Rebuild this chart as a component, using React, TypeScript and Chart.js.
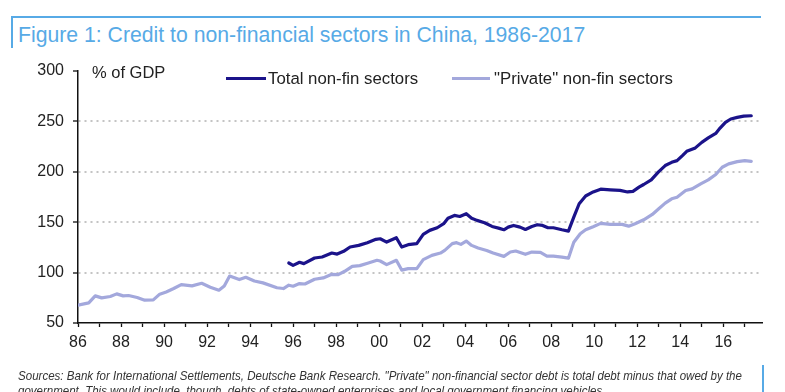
import React, { useEffect, useLayoutEffect, useRef, useState } from 'react';
import { Chart, registerables } from 'chart.js';

Chart.register(...registerables);

const titleText = 'Figure 1: Credit to non-financial sectors in China, 1986-2017';
const footLine1 = 'Sources: Bank for International Settlements, Deutsche Bank Research. "Private" non-financial sector debt is total debt minus that owed by the';
const footLine2 = 'government. This would include, though, debts of state-owned enterprises and local government financing vehicles.';
const unitLabel = '% of GDP';
const totalLabel = 'Total non-fin sectors';
const privateLabel = '"Private" non-fin sectors';

const xTickYears = [1986, 1988, 1990, 1992, 1994, 1996, 1998, 2000, 2002, 2004, 2006, 2008, 2010, 2012, 2014, 2016];
const xMinorYears = [1986, 1987, 1988, 1989, 1990, 1991, 1992, 1993, 1994, 1995, 1996, 1997, 1998, 1999, 2000, 2001, 2002, 2003, 2004, 2005, 2006, 2007, 2008, 2009, 2010, 2011, 2012, 2013, 2014, 2015, 2016, 2017];
const yTickValues = [50, 100, 150, 200, 250, 300];

const privateYears = [
  1986.0, 1986.5, 1986.8, 1987.1, 1987.5, 1987.8, 1988.1, 1988.35, 1988.75, 1989.1,
  1989.5, 1989.8, 1990.1, 1990.45, 1990.8, 1991.3, 1991.75, 1992.15, 1992.55, 1992.8,
  1993.05, 1993.5, 1993.8, 1994.2, 1994.6, 1995.25, 1995.55, 1995.8, 1996.0, 1996.3,
  1996.55, 1997.0, 1997.4, 1997.8, 1998.1, 1998.4, 1998.75, 1999.1, 1999.5, 1999.9,
  2000.05, 2000.35, 2000.8, 2001.05, 2001.35, 2001.75, 2002.05, 2002.45, 2002.85, 2003.05,
  2003.4, 2003.6, 2003.8, 2004.05, 2004.3, 2004.6, 2005.0, 2005.3, 2005.8, 2006.1,
  2006.35, 2006.8, 2007.1, 2007.5, 2007.8, 2008.1, 2008.5, 2008.8, 2009.05, 2009.35,
  2009.6, 2009.95, 2010.3, 2010.75, 2011.3, 2011.6, 2011.9, 2012.3, 2012.7, 2013.0,
  2013.3, 2013.6, 2013.85, 2014.25, 2014.55, 2014.95, 2015.3, 2015.65, 2015.95, 2016.25,
  2016.65, 2017.0, 2017.3,
];
const privateValues = [
  67.6, 70, 76.9, 74.9, 76.3, 78.9, 76.9, 77.3, 75.3, 72.6,
  72.9, 78.6, 80.8, 84.2, 88.1, 86.8, 89.4, 85.4, 82.5, 86.8,
  96.6, 93.1, 95.4, 91.7, 89.8, 85, 84.2, 87.5, 86.5, 89.1,
  88.7, 93.4, 94.7, 98.3, 98, 101.3, 106.2, 106.9, 109.5, 112.2,
  111.5, 107.9, 112.2, 102.5, 104, 104, 112.9, 117.1, 119.4, 122,
  128.7, 129.7, 128, 131.3, 127, 124.4, 122, 119.4, 116.1, 120.4,
  121.4, 118.1, 120.4, 120, 116.4, 116.4, 115.4, 114.3, 130.1, 138.6,
  142.5, 145.5, 148.8, 147.8, 147.8, 146.1, 148.5, 152.4, 157.7, 163.3,
  168.9, 173.2, 174.8, 181.4, 183.1, 188.1, 192, 197.3, 204.5, 207.9,
  210.1, 211.1, 210.4,
];

const totalYears = [
  1995.8, 1996.0, 1996.3, 1996.5, 1997.0, 1997.35, 1997.8, 1998.05, 1998.35, 1998.65,
  1999.05, 1999.45, 1999.85, 2000.05, 2000.35, 2000.8, 2001.05, 2001.35, 2001.75, 2002.05,
  2002.35, 2002.7, 2003.0, 2003.2, 2003.5, 2003.75, 2004.05, 2004.3, 2004.55, 2004.9,
  2005.25, 2005.55, 2005.8, 2006.0, 2006.25, 2006.55, 2006.8, 2007.1, 2007.35, 2007.6,
  2007.85, 2008.1, 2008.5, 2008.8, 2009.05, 2009.3, 2009.6, 2009.95, 2010.3, 2010.75,
  2011.2, 2011.55, 2011.8, 2012.1, 2012.3, 2012.65, 2013.0, 2013.3, 2013.6, 2013.85,
  2014.1, 2014.3, 2014.7, 2015.0, 2015.3, 2015.65, 2015.85, 2016.1, 2016.35, 2016.65,
  2016.95, 2017.3,
];
const totalValues = [
  109.5, 107.2, 110.2, 108.9, 114.5, 115.5, 119.4, 118.4, 121.1, 125.4,
  127, 129.7, 133, 133.6, 130.3, 134.6, 125.4, 127.7, 128.7, 137.9,
  141.9, 144.5, 148.5, 154, 156.7, 155.7, 158.4, 154, 151.8, 149.5,
  145.8, 144.1, 142.5, 145.1, 146.8, 145.1, 142.8, 145.8, 147.5, 146.8,
  144.5, 144.5, 142.5, 141.2, 155, 168.3, 176, 180, 182.8, 182.1,
  181.6, 180, 180.6, 185, 187.4, 192, 200.2, 206.2, 209.4, 211.1,
  216.1, 220.3, 223.7, 229.2, 233.6, 238.1, 243.4, 249, 252.4, 254,
  255.3, 255.6,
];

const TOTAL_COLOR = '#1b138a';
const PRIVATE_COLOR = '#a3a8dc';
const TITLE_BLUE = '#57aae6';
const TEXT_COLOR = '#222222';
const FONT = '"Liberation Sans", Arial, sans-serif';

function FitText({ text, width, style }: { text: string; width: number; style: React.CSSProperties }) {
  const ref = useRef<HTMLSpanElement>(null);
  const [scale, setScale] = useState(1);
  useLayoutEffect(() => {
    if (ref.current) {
      const w = ref.current.offsetWidth;
      if (w > 0) setScale(width / w);
    }
  }, [text, width]);
  return (
    <span
      ref={ref}
      style={{
        ...style,
        display: 'inline-block',
        whiteSpace: 'nowrap',
        transform: `scaleX(${scale})`,
        transformOrigin: 'left center',
      }}
    >
      {text}
    </span>
  );
}

function CreditChart() {
  const canvasRef = useRef<HTMLCanvasElement>(null);
  useEffect(() => {
    if (!canvasRef.current) return;
    const totalData = totalYears.map((x, i) => ({ x, y: totalValues[i] }));
    const privateData = privateYears.map((x, i) => ({ x, y: privateValues[i] }));
    const chart = new Chart(canvasRef.current, {
      type: 'line',
      data: {
        datasets: [
          {
            label: privateLabel,
            data: privateData,
            borderColor: PRIVATE_COLOR,
            borderWidth: 3.2,
            pointRadius: 0,
            tension: 0,
            borderJoinStyle: 'round',
            borderCapStyle: 'round',
          },
          {
            label: totalLabel,
            data: totalData,
            borderColor: TOTAL_COLOR,
            borderWidth: 3.2,
            pointRadius: 0,
            tension: 0,
            borderJoinStyle: 'round',
            borderCapStyle: 'round',
          },
        ],
      },
      options: {
        animation: false,
        responsive: false,
        events: [],
        layout: { padding: { top: 71, right: 23, bottom: 0, left: 0 } },
        plugins: {
          legend: { display: false },
          tooltip: { enabled: false },
          title: { display: false },
        },
        scales: {
          x: {
            type: 'linear',
            min: 1986,
            max: 2017.8,
            afterBuildTicks: (s: any) => {
              s.ticks = xMinorYears.map((v) => ({ value: v }));
            },
            afterFit: (s: any) => {
              s.height = 69;
            },
            ticks: {
              autoSkip: false,
              maxRotation: 0,
              minRotation: 0,
              padding: 6,
              color: TEXT_COLOR,
              font: { family: FONT, size: 16 },
              callback: (v: any) => {
                const yr = Math.round(Number(v));
                return xTickYears.includes(yr) ? String(yr % 100).padStart(2, '0') : '';
              },
            },
            grid: {
              drawOnChartArea: false,
              drawTicks: true,
              tickLength: 4,
              tickColor: '#111',
              tickWidth: 1.3,
            },
            border: { display: true, color: '#111', width: 1.5 },
          },
          y: {
            type: 'linear',
            min: 50,
            max: 300,
            afterBuildTicks: (s: any) => {
              s.ticks = yTickValues.map((v) => ({ value: v }));
            },
            afterFit: (s: any) => {
              s.width = 78;
            },
            ticks: {
              padding: 9,
              color: TEXT_COLOR,
              font: { family: FONT, size: 16 },
            },
            grid: {
              drawOnChartArea: true,
              drawTicks: true,
              tickLength: 5,
              tickColor: '#111',
              tickWidth: 1.3,
              lineWidth: 2,
              color: (ctx: any) => {
                const v = ctx.tick ? ctx.tick.value : null;
                return v === 50 || v === 300 ? 'rgba(0,0,0,0)' : '#c4c4c4';
              },
            },
            border: { display: true, color: '#111', width: 1.5, dash: [2, 4] },
          },
        },
      },
    });
    return () => chart.destroy();
  }, []);
  return (
    <canvas
      ref={canvasRef}
      width={785}
      height={392}
      style={{ position: 'absolute', left: 0, top: 0, width: 785, height: 392 }}
    />
  );
}

export default function App() {
  return (
    <div
      style={{
        position: 'absolute',
        left: 0,
        top: 0,
        width: 785,
        height: 392,
        overflow: 'hidden',
        background: '#ffffff',
        fontFamily: FONT,
      }}
    >
      {/* title frame */}
      <div style={{ position: 'absolute', left: 11, top: 16, width: 750, height: 1.5, background: TITLE_BLUE }} />
      <div style={{ position: 'absolute', left: 11, top: 16, width: 1.5, height: 32, background: TITLE_BLUE }} />
      <div style={{ position: 'absolute', left: 18, top: 22, lineHeight: '26px', height: 26 }}>
        <FitText text={titleText} width={567} style={{ fontSize: 22, color: TITLE_BLUE, fontFamily: FONT }} />
      </div>

      <CreditChart />

      {/* unit + legend */}
      <div style={{ position: 'absolute', left: 92, top: 62, lineHeight: '20px', fontSize: 16.5, color: TEXT_COLOR }}>
        {unitLabel}
      </div>
      <div style={{ position: 'absolute', left: 226, top: 76.5, width: 40, height: 3, background: TOTAL_COLOR }} />
      <div style={{ position: 'absolute', left: 268, top: 68.5, lineHeight: '20px', fontSize: 16.8, color: TEXT_COLOR }}>
        {totalLabel}
      </div>
      <div style={{ position: 'absolute', left: 452, top: 76.5, width: 38, height: 3, background: PRIVATE_COLOR }} />
      <div style={{ position: 'absolute', left: 494, top: 68.5, lineHeight: '20px', fontSize: 16.8, color: TEXT_COLOR }}>
        {privateLabel}
      </div>

      {/* footer */}
      <div style={{ position: 'absolute', left: 18, top: 367, lineHeight: '15px' }}>
        <FitText text={footLine1} width={724} style={{ fontSize: 13, fontStyle: 'italic', color: '#333', fontFamily: FONT }} />
      </div>
      <div style={{ position: 'absolute', left: 18, top: 382, lineHeight: '15px' }}>
        <FitText text={footLine2} width={587} style={{ fontSize: 13, fontStyle: 'italic', color: '#333', fontFamily: FONT }} />
      </div>
      <div style={{ position: 'absolute', left: 762, top: 365, width: 1.5, height: 30, background: TITLE_BLUE }} />
    </div>
  );
}
